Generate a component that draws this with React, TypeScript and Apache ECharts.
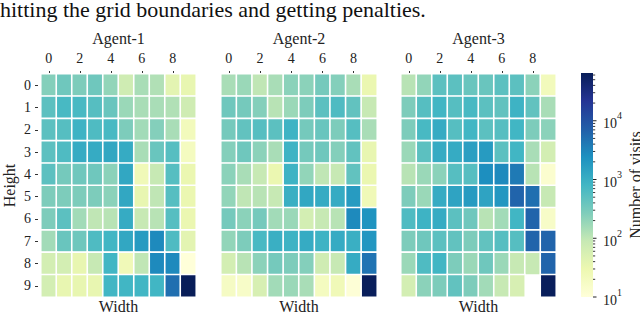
import React, { useEffect, useRef } from 'react';
import * as echarts from 'echarts';

const agentNames = ['Agent-1', 'Agent-2', 'Agent-3'];
const widthLabels = ['0', '1', '2', '3', '4', '5', '6', '7', '8', '9'];
const heightLabels = ['0', '1', '2', '3', '4', '5', '6', '7', '8', '9'];
const caption = 'hitting the grid boundaries and getting penalties.';
const xAxisTitle = 'Width';
const yAxisTitle = 'Height';
const colorbarTitle = 'Number of visits';
const colorbarExponents = [1, 2, 3, 4];

// visits per cell, rows = Height 0..9, columns = Width 0..9
const agent1Visits: (number | null)[][] = [
  [250, 355, 280, 355, 200, 71, 141, 126, 40, 35],
  [500, 710, 710, 560, 400, 178, 141, 141, 126, 71],
  [500, 560, 890, 630, 710, 280, 158, 250, 141, 22],
  [500, 630, 1120, 1120, 1260, 1120, 141, 400, 560, 20],
  [500, 320, 355, 355, 224, 1260, 25, 89, 560, 32],
  [280, 280, 280, 280, 224, 1260, 35, 100, 560, 32],
  [280, 500, 158, 100, 112, 1120, 89, 112, 560, 32],
  [158, 400, 355, 630, 800, 1260, 1780, 2820, 630, 40],
  [63, 63, 35, 89, 800, 25, 100, 2820, 2820, 10],
  [63, 35, 35, 35, 800, 800, 800, 800, 5000, 65000],
];
const agent2Visits: (number | null)[][] = [
  [141, 178, 100, 141, 224, 224, 320, 250, 141, 32],
  [355, 320, 250, 112, 178, 280, 500, 630, 450, 89],
  [320, 450, 560, 500, 890, 320, 400, 280, 560, 141],
  [250, 355, 224, 141, 890, 320, 355, 250, 450, 35],
  [224, 141, 89, 32, 890, 200, 100, 89, 450, 32],
  [200, 100, 112, 89, 1000, 1260, 1120, 1120, 1780, 25],
  [320, 224, 320, 158, 178, 63, 89, 112, 2820, 2240],
  [200, 280, 710, 1000, 890, 1120, 890, 1120, 1000, 2000],
  [63, 112, 224, 320, 280, 250, 71, 89, 1120, 4470],
  [18, 16, 56, 158, 178, 141, 20, 25, 11, 62000],
];
const agent3Visits: (number | null)[][] = [
  [112, 200, 500, 500, 400, 400, 500, 500, 224, 22],
  [280, 560, 800, 560, 710, 500, 450, 890, 450, 141],
  [280, 710, 1120, 560, 800, 500, 560, 800, 280, 224],
  [178, 500, 1120, 1120, 1580, 1780, 500, 800, 141, 63],
  [112, 178, 224, 560, 560, 2510, 2820, 3980, 112, 13],
  [280, 178, 1120, 1410, 1780, 1410, 2000, 6310, 5010, 89],
  [630, 890, 1120, 500, 355, 112, 158, 800, 6310, 16],
  [280, 355, 500, 450, 280, 450, 560, 560, 6310, 6310],
  [178, 630, 800, 280, 178, 355, 178, 89, 89, 6310],
  [63, 224, 280, 450, 280, 158, 89, 56, null, 62000],
];
const agentVisits = [agent1Visits, agent2Visits, agent3Visits];

const ylGnBu = ['#ffffd9', '#edf8b1', '#c7e9b4', '#7fcdbb', '#41b6c4', '#1d91c0', '#225ea8', '#253494', '#081d58'];

const FONT = "'Liberation Serif', 'Times New Roman', serif";
const TEXT = '#222222';

export default function App() {
  const ref = useRef<HTMLDivElement>(null);
  useEffect(() => {
    if (!ref.current) return;
    const chart = echarts.init(ref.current, null, { renderer: 'svg' });

    const all: number[] = [];
    agentVisits.forEach((g) => g.forEach((r) => r.forEach((v) => { if (v != null && v > 0) all.push(v); })));
    const logMin = Math.log10(Math.min(...all));
    const logMax = Math.log10(Math.max(...all));

    // colorbar ticks: [log10 value, isMajor]
    const cbTicks: number[][] = [];
    for (let e = 0; e <= 5; e++) {
      for (let k = 1; k <= 9; k++) {
        const l = Math.log10(k * Math.pow(10, e));
        if (l >= logMin - 1e-9 && l <= logMax + 1e-9) cbTicks.push([l, k === 1 ? 1 : 0]);
      }
    }

    const grids = [
      { left: 41, top: 74, width: 155, height: 223, outerBoundsMode: 'none', containLabel: false },
      { left: 221, top: 74, width: 156, height: 223, outerBoundsMode: 'none', containLabel: false },
      { left: 401, top: 74, width: 155, height: 223, outerBoundsMode: 'none', containLabel: false },
      { left: 581, top: 73, width: 12, height: 224, outerBoundsMode: 'none', containLabel: false },
    ];

    const xAxes: any[] = agentNames.map((name, i) => ({
      type: 'category',
      gridIndex: i,
      data: widthLabels,
      position: 'top',
      name,
      nameLocation: 'middle',
      nameGap: 26,
      nameTextStyle: { fontFamily: FONT, fontSize: 16, color: TEXT },
      axisLine: { show: false },
      axisTick: { show: true, alignWithLabel: true, interval: 1, length: 3, lineStyle: { color: '#333', width: 1 } },
      axisLabel: { interval: 1, fontFamily: FONT, fontSize: 14, color: TEXT, margin: 9 },
      splitLine: { show: false },
    }));
    xAxes.push({ type: 'value', gridIndex: 3, min: 0, max: 1, show: false });

    const yAxes: any[] = agentNames.map((_, i) => ({
      type: 'category',
      gridIndex: i,
      data: heightLabels,
      inverse: true,
      offset: 3,
      name: i === 0 ? yAxisTitle : '',
      nameLocation: 'middle',
      nameGap: 21,
      nameRotate: 90,
      nameTextStyle: { fontFamily: FONT, fontSize: 16, color: TEXT },
      axisLine: { show: false },
      axisTick: { show: i === 0, alignWithLabel: true, length: 3, lineStyle: { color: '#333', width: 1 } },
      axisLabel: { show: i === 0, fontFamily: FONT, fontSize: 14, color: TEXT, margin: 7 },
      splitLine: { show: false },
    }));
    yAxes.push({
      type: 'value',
      gridIndex: 3,
      min: logMin,
      max: logMax,
      position: 'right',
      name: colorbarTitle,
      nameLocation: 'middle',
      nameRotate: 90,
      nameGap: 34,
      nameTextStyle: { fontFamily: FONT, fontSize: 16, color: TEXT },
      axisLine: { show: false },
      splitLine: { show: false },
      axisTick: { show: false },
      axisLabel: {
        show: true,
        margin: 10,
        align: 'left',
        customValues: colorbarExponents,
        formatter: (v: number) => `{b|10}{s|${Math.round(v)}}`,
        rich: {
          b: { fontFamily: FONT, fontSize: 14, color: TEXT, verticalAlign: 'bottom', lineHeight: 20 },
          s: { fontFamily: FONT, fontSize: 10, color: TEXT, verticalAlign: 'top', lineHeight: 20 },
        },
      },
    });

    const series: any[] = agentVisits.map((grid, i) => {
      const data: any[] = [];
      grid.forEach((row, r) => row.forEach((v, c) => {
        if (v != null && v > 0) data.push([c, r, Math.log10(v)]);
      }));
      return {
        type: 'heatmap',
        xAxisIndex: i,
        yAxisIndex: i,
        data,
        itemStyle: { borderColor: '#ffffff', borderWidth: 1.6 },
        emphasis: { disabled: true },
      };
    });

    // colorbar: gradient bar (top = darkest), stops in ascending offset order
    const gradientStops = ylGnBu
      .map((c, i) => ({ offset: 1 - i / (ylGnBu.length - 1), color: c }))
      .reverse();
    series.push({
      type: 'custom',
      xAxisIndex: 3,
      yAxisIndex: 3,
      silent: true,
      clip: false,
      encode: { x: 0, y: 1 },
      data: [[0, logMin, logMax]],
      renderItem: (params: any, api: any) => {
        const top = api.coord([0, api.value(2)]);
        const bottom = api.coord([0, api.value(1)]);
        const cs = params.coordSys;
        return {
          type: 'rect',
          shape: { x: cs.x, y: top[1], width: cs.width, height: bottom[1] - top[1] },
          style: { fill: new echarts.graphic.LinearGradient(0, 0, 0, 1, gradientStops) },
        };
      },
    });
    // colorbar tick marks (major and minor) on the log axis
    series.push({
      type: 'custom',
      xAxisIndex: 3,
      yAxisIndex: 3,
      silent: true,
      clip: false,
      z: 10,
      encode: { x: 1, y: 0 },
      data: cbTicks,
      renderItem: (params: any, api: any) => {
        const p = api.coord([0, api.value(0)]);
        const x0 = params.coordSys.x + params.coordSys.width;
        const major = api.value(1) > 0;
        return {
          type: 'line',
          shape: { x1: x0, y1: p[1], x2: x0 + (major ? 3.5 : 2.2), y2: p[1] },
          style: { stroke: '#222', lineWidth: major ? 1 : 0.9, fill: null },
        };
      },
    });

    chart.setOption({
      animation: false,
      backgroundColor: '#ffffff',
      textStyle: { fontFamily: FONT },
      grid: grids,
      xAxis: xAxes,
      yAxis: yAxes,
      visualMap: {
        type: 'continuous',
        show: false,
        seriesIndex: [0, 1, 2],
        min: logMin,
        max: logMax,
        inRange: { color: ylGnBu },
      },
      graphic: [
        {
          type: 'text',
          left: 0,
          top: -2,
          style: { text: caption, font: `22px ${FONT}`, fill: '#111' },
        },
        ...[{ c: 118.5 }, { c: 299 }, { c: 478.5 }].map((p) => ({
          type: 'text',
          x: p.c,
          y: 306,
          style: { text: xAxisTitle, font: `16px ${FONT}`, fill: TEXT, align: 'center', verticalAlign: 'middle' },
        })),
      ],
      series,
    });
    return () => chart.dispose();
  }, []);
  return <div ref={ref} style={{ position: 'fixed', left: 0, top: 0, width: 640, height: 313, background: '#fff' }} />;
}
